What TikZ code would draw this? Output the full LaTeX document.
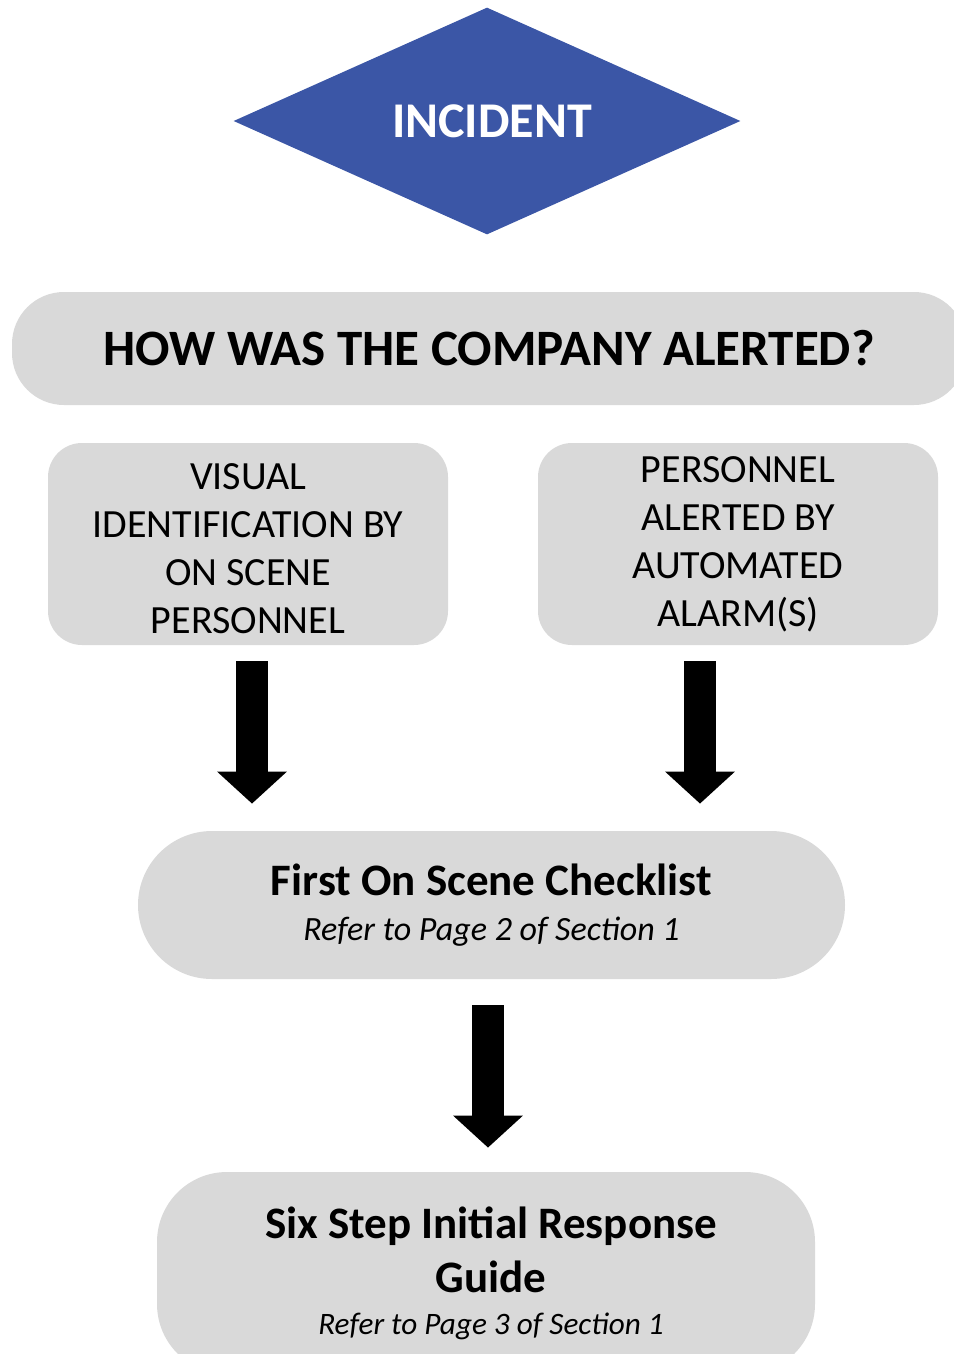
\documentclass[tikz,border=0pt]{standalone}
\usepackage{fontspec}
\setmainfont{Carlito}
\usetikzlibrary{shapes.geometric,arrows.meta}

\definecolor{boxgray}{RGB}{217,217,217}
\definecolor{incblue}{RGB}{59,86,166}

\tikzstyle{pxfig}=[x=0.5pt,y=-0.5pt]
\tikzstyle{greybox}=[fill=boxgray,draw=none,rectangle,align=center,inner sep=0pt]
\tikzstyle{bigarrow}=[line width=16pt,-{Triangle[width=34pt,length=16pt]}]

\begin{document}
\begin{tikzpicture}[style=pxfig]
\useasboundingbox (0,0) rectangle (953,1354);

\node[diamond,fill=incblue,aspect=2.23,minimum width=253.5pt,minimum height=113.5pt,inner sep=0pt,text=white,font=\fontsize{25}{30}\selectfont\bfseries] (inc) at (487,121) {\hspace*{5pt}INCIDENT};

\node[greybox,rounded corners=26pt,minimum width=477pt,minimum height=56.5pt,font=\fontsize{25.5}{30}\selectfont\bfseries] (ask) at (489,348.5) {HOW WAS THE COMPANY ALERTED?};

\node[greybox,rounded corners=17pt,minimum width=200pt,minimum height=101pt,font=\fontsize{20}{24}\selectfont] (vis) at (248,544) {\rule{0pt}{18pt}VISUAL\\IDENTIFICATION BY\\ON SCENE\\PERSONNEL};
\node[greybox,rounded corners=17pt,minimum width=200pt,minimum height=101pt,font=\fontsize{20}{24}\selectfont] (auto) at (738,544) {PERSONNEL\\ALERTED BY\\AUTOMATED\\ALARM(S)};

\node[greybox,rounded corners=37pt,minimum width=353.5pt,minimum height=74pt,font=\fontsize{22.5}{22.5}\selectfont] (check) at (491.5,905) {\textbf{First On Scene Checklist}\\{\fontsize{17}{20}\selectfont\itshape Refer to Page 2 of Section 1}};

\node[greybox,rounded corners=35pt,minimum width=329pt,minimum height=101pt,font=\fontsize{22.5}{27}\selectfont] (six) at (486,1273) {\hspace*{5pt}\textbf{Six Step Initial Response}\\\hspace*{5pt}\textbf{Guide}\\[-6pt]{\fontsize{15.6}{20}\selectfont\itshape\hspace*{5pt}Refer to Page 3 of Section 1}};

\draw[bigarrow,shorten <=8pt,shorten >=13.5pt] ([xshift=2pt]vis.south) -- ([xshift=2pt]vis.south |- check.north);
\draw[bigarrow,shorten <=8pt,shorten >=13.5pt] ([xshift=-19pt]auto.south) -- ([xshift=-19pt]auto.south |- check.north);
\draw[bigarrow,shorten <=13pt,shorten >=12pt] ([xshift=-1.75pt]check.south) -- ([xshift=-1.75pt]check.south |- six.north);
\end{tikzpicture}
\end{document}
